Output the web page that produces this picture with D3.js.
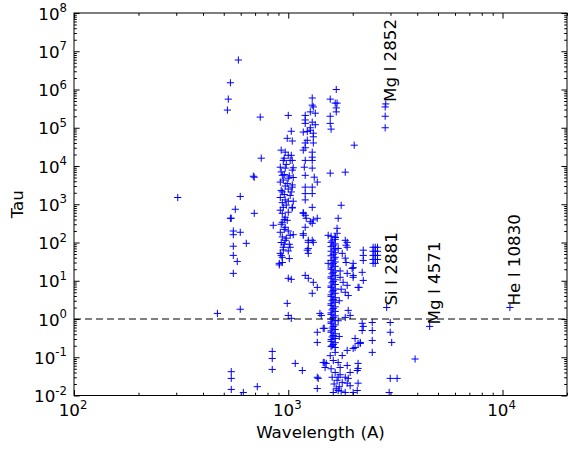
<!DOCTYPE html>
<html><head><meta charset="utf-8">
<script src="https://cdn.jsdelivr.net/npm/d3@7"></script>
<style>body{margin:0;background:#fff}svg{display:block}text{font-family:"DejaVu Sans",sans-serif;fill:#000}</style>
</head><body><svg id="c" width="568" height="451"></svg>
<script>
// ---- data: [wavelength (A), tau] ----
const farUV = [[305,1.5e3],[585,5.9e6],[537,1.5e6],[525,5.6e5],[520,2.9e5],[740,1.9e5],[748,1.6e4],[687,5.4e3],[694,5.1e3],[597,1.6e3],[566,740],[537,430],[542,430],[694,580],[554,200],[554,160],[597,185],[637,95],[554,80],[554,46],[578,32],[554,15.6],[467,1.4],[597,1.8],[542,0.042],[542,0.028],[542,0.0144],[617,0.012],[717,0.017],[842,0.142],[842,0.093],[842,0.048]];
const col1000 = [[1000,2.1e5],[1033,8.1e4],[989,5.3e4],[1044,4.5e4],[968,2.3e4],[1000,1.9e4],[948,1.4e4],[1021,1.4e4],[918,9.3e3],[968,8.8e3],[1044,7.8e3],[938,5.7e3],[1000,4.8e3],[918,3.8e3],[989,3.5e3],[1044,2.8e3],[938,2.1e3],[1021,1.7e3],[918,1.5e3],[968,1.3e3],[1044,830],[948,830],[938,580],[968,457],[938,338],[851,282],[968,250],[918,185],[1021,154],[968,114],[1021,75],[948,75],[918,52],[938,41],[908,28.5],[1000,11.6],[1033,10.9],[989,2.56],[1000,1.24],[1033,1.04],[927,2.6e4],[958,1.6e4],[979,1.1e4],[927,7.0e3],[958,6.0e3],[1011,5.5e3],[948,4.3e3],[968,3.0e3],[1000,2.5e3],[927,2.3e3],[958,1.8e3],[1000,1.2e3],[938,1.1e3],[979,950],[918,700],[1000,620],[958,400],[989,380],[927,300],[958,220],[1000,200],[938,140],[979,130],[927,100],[958,90],[1000,60],[948,64],[927,46],[1011,38],[938,30],[1033,1.9e4],[1044,1.4e4],[1055,9.0e3],[1055,5.0e3],[1044,3.2e3],[1033,2.1e3],[1055,1.2e3],[1044,800],[1055,160],[1011,90],[908,26]];
const col1300 = [[1294,6.0e5],[1309,3.5e5],[1337,2.4e5],[1200,2.1e5],[1294,1.4e5],[1200,1.3e5],[1337,1.2e5],[1175,7.7e4],[1267,8.6e4],[1309,7.2e4],[1227,4.7e4],[1309,4.0e4],[1175,2.6e4],[1294,2.3e4],[1200,1.4e4],[1294,1.4e4],[1188,9.3e3],[1294,8.8e3],[1200,5.7e3],[1322,5.1e3],[1366,3.8e3],[1200,2.8e3],[1294,2.8e3],[1200,1.9e3],[1294,1.9e3],[1200,1.3e3],[1294,830],[1175,580],[1200,515],[1366,430],[1294,318],[1200,250],[1175,154],[1240,101],[1309,101],[1227,63],[1240,52],[1200,13.8],[1240,11.6],[1309,9.1],[1366,6.7],[1294,4.7],[1426,1.24],[1294,3.9e5],[1267,2.6e5],[1200,1.6e5],[1267,1.0e5],[1227,8.0e4],[1309,5.8e4],[1200,4.0e4],[1200,3.0e4],[1294,1.7e4],[1175,600],[1213,430],[1267,350],[1309,390],[1240,114],[1240,70],[1294,114],[1175,170]];
const col1650Top = [[1675,1.0e6],[1570,5.6e5],[1656,4.4e5],[1690,4.4e5],[1675,3.3e5],[1675,2.6e5],[1570,2.0e5],[1570,1.3e5],[1585,9.2e4],[2032,3.5e4],[1570,6.5e3],[1845,6.9e3],[1766,940],[1710,430],[1690,235],[1536,154],[1690,174],[1656,137]];
const bar1650 = [[1585,145],[1656,121],[1585,101],[1622,85],[1656,70],[1585,59],[1622,49],[1656,41],[1585,34],[1622,28.5],[1656,23.8],[1585,19.9],[1622,16.6],[1656,13.8],[1585,11.6],[1622,9.6],[1656,8.0],[1585,6.7],[1622,5.6],[1656,4.7],[1585,3.9],[1622,3.26],[1656,2.72],[1585,2.27],[1622,1.89],[1656,1.58],[1585,1.32],[1622,1.10],[1656,0.92],[1585,0.77],[1622,0.64],[1656,0.53],[1585,0.45],[1622,0.37],[1656,0.31],[1585,0.26],[1622,0.216],[1656,0.18],[1656,135],[1603,110],[1656,92],[1585,78],[1637,64],[1656,54],[1585,45],[1637,37],[1656,31],[1603,26],[1585,21.7],[1656,18.2],[1603,15.2],[1585,12.7],[1656,10.6],[1603,8.8],[1585,7.3],[1656,6.1],[1603,5.1],[1585,4.3],[1656,3.6],[1603,3.0],[1585,2.5],[1656,2.08],[1603,1.73],[1585,1.45],[1656,1.21],[1603,1.0],[1585,0.84],[1656,0.70],[1603,0.58],[1585,0.49],[1656,0.41],[1603,0.34],[1585,0.29],[1656,0.24],[1603,0.20],[1585,0.19]];
const col1650Side = [[1845,114],[1862,85],[1710,70],[1786,52],[1845,39],[2009,28.5],[1987,21],[1884,15.6],[1746,12.3],[1803,9.1],[1884,7.6],[1845,5.0],[1905,4.1],[1905,1.68],[1945,1.24],[1845,1.10],[1884,101],[1884,75],[1862,30],[2009,22],[2009,13.8],[2009,12.3],[2118,6.7],[1536,28.5],[1746,18],[1766,6],[1730,3],[1710,0.9],[1730,0.35]];
const lowScatter = [[1078,0.069],[1163,0.045],[1366,0.030],[1380,0.028],[1366,0.0152],[1366,0.45],[1366,0.244],[1405,1.40],[1456,0.57],[1472,0.57],[1472,0.073],[1504,0.069],[1622,0.082],[1456,0.073],[1486,0.054],[1656,0.134],[1786,0.111],[1884,0.151],[2009,0.17],[2118,0.23],[1710,0.073],[1746,0.054],[1884,0.061],[1945,0.040],[2099,0.045],[1710,0.030],[1786,0.022],[1905,0.028],[1945,0.018],[2118,0.021],[1710,0.0135],[1845,0.012],[2051,0.18],[2168,0.23],[2118,0.069],[2118,0.051],[2099,0.0135],[2009,0.012],[1845,0.030],[1884,0.021],[1570,0.11],[1585,0.05],[1656,0.04],[1603,0.03],[1690,0.025],[1637,0.02],[1675,0.015],[1622,0.012],[1730,0.017],[1766,0.013],[1746,0.035],[2051,0.31],[2168,0.244],[2213,0.77],[2213,0.50]];
const nearUV = [[2239,63],[2239,46],[2239,34],[2213,16.6],[2239,10.2],[2489,75],[2547,75],[2610,75],[2489,59],[2547,59],[2610,59],[2489,46],[2547,46],[2610,46],[2489,36],[2547,36],[2610,36],[2489,28.5],[2547,28.5],[2834,3.5e5],[2834,2.0e5],[2834,1.0e5],[2239,0.64],[2466,0.81],[2466,0.50],[2466,0.275],[2466,0.134],[2992,0.81],[2992,0.45],[2992,0.028],[3222,0.028],[2958,0.012],[3908,0.09],[3040,0.244],[2140,6.7]];
const lineLabels = ["Mg I 2852","Si I 2881","Mg I 4571","He I 10830"];
const lineWavelengths = [2852,2881,4571,10830];
const lineTaus = [4.2e5,2.0,0.64,2.0];
const xTickExps = [2,3,4];
const yTickExps = [-2,-1,0,1,2,3,4,5,6,7,8];
const xLabel = "Wavelength (A)", yLabel = "Tau";

// ---- drawing ----
const W=568,H=451, L=74, R=567, T=13, B=395.5;
const svg=d3.select("#c");
svg.append("rect").attr("width",W).attr("height",H).attr("fill","#fff");
const x=d3.scaleLog().domain([1e2,2e4]).range([L,R]);
const y=d3.scaleLog().domain([1e-2,1e8]).range([B,T]);

svg.append("defs").append("clipPath").attr("id","pc").append("rect")
  .attr("x",L).attr("y",T).attr("width",R-L).attr("height",B-T);

const allPts=[].concat(farUV,col1000,col1300,col1650Top,bar1650,col1650Side,lowScatter,nearUV,
  lineWavelengths.map((w,i)=>[w,lineTaus[i]]));
const gp=svg.append("g").attr("clip-path","url(#pc)");
gp.selectAll("path.p").data(allPts).join("path").attr("class","p")
  .attr("transform",d=>`translate(${x(d[0])},${y(d[1])})`)
  .attr("d","M-3.6,0H3.6M0,-3.6V3.6").attr("stroke","#0000ff").attr("stroke-width",1).attr("fill","none");

// dashed tau=1 line
svg.append("line").attr("x1",L).attr("x2",R).attr("y1",y(1)).attr("y2",y(1))
  .attr("stroke","#000").attr("stroke-width",1).attr("stroke-dasharray","7,4");

// ticks
const xMajor=xTickExps.map(e=>10**e), yMajor=yTickExps.map(e=>10**e);
const minorOf=(exps,max)=>{const a=[];exps.forEach(e=>{for(let m=2;m<10;m++){const v=m*10**e;if(v<=max)a.push(v);}});return a;};
const xMinor=minorOf([2,3,4],2e4), yMinor=minorOf(yTickExps.slice(0,-1),1e8);
function ax(gen,tr,vals,size){
  const g=svg.append("g").attr("transform",tr).call(gen.tickValues(vals).tickSize(size).tickSizeOuter(0).tickFormat(""));
  g.select(".domain").remove(); g.selectAll("line").attr("stroke","#000");
}
ax(d3.axisBottom(x),`translate(0,${B})`,xMajor,-5.6); ax(d3.axisBottom(x),`translate(0,${B})`,xMinor,-2.8);
ax(d3.axisTop(x),`translate(0,${T})`,xMajor,-5.6); ax(d3.axisTop(x),`translate(0,${T})`,xMinor,-2.8);
ax(d3.axisLeft(y),`translate(${L},0)`,yMajor,-5.6); ax(d3.axisLeft(y),`translate(${L},0)`,yMinor,-2.8);
ax(d3.axisRight(y),`translate(${R},0)`,yMajor,-5.6); ax(d3.axisRight(y),`translate(${R},0)`,yMinor,-2.8);
svg.append("rect").attr("x",L).attr("y",T).attr("width",R-L).attr("height",B-T)
  .attr("fill","none").attr("stroke","#000").attr("stroke-width",1);

// tick labels
const FS=16.7, SFS=11.7;
xTickExps.forEach(e=>{
  const t=svg.append("text").attr("x",x(10**e)-1).attr("y",416).attr("text-anchor","middle").attr("font-size",FS);
  t.append("tspan").text("10");
  t.append("tspan").attr("font-size",SFS).attr("dy",-7.5).text(String(e));
});
yTickExps.forEach(e=>{
  const t=svg.append("text").attr("x",67).attr("y",y(10**e)+6.5).attr("text-anchor","end").attr("font-size",FS);
  t.append("tspan").text("10");
  t.append("tspan").attr("font-size",SFS).attr("dy",-7.5).text(e<0?"-"+(-e):String(e));
});

// axis labels
svg.append("text").attr("x",(L+R)/2).attr("y",438).attr("text-anchor","middle").attr("font-size",FS).text(xLabel);
svg.append("text").attr("transform",`translate(23,${(T+B)/2}) rotate(-90)`).attr("text-anchor","middle").attr("font-size",FS).text(yLabel);

// line annotations
lineLabels.forEach((s,i)=>{
  svg.append("text").attr("transform",`translate(${x(lineWavelengths[i])+10},${y(lineTaus[i])-2}) rotate(-90)`)
    .attr("font-size",FS).text(s);
});
</script></body></html>
